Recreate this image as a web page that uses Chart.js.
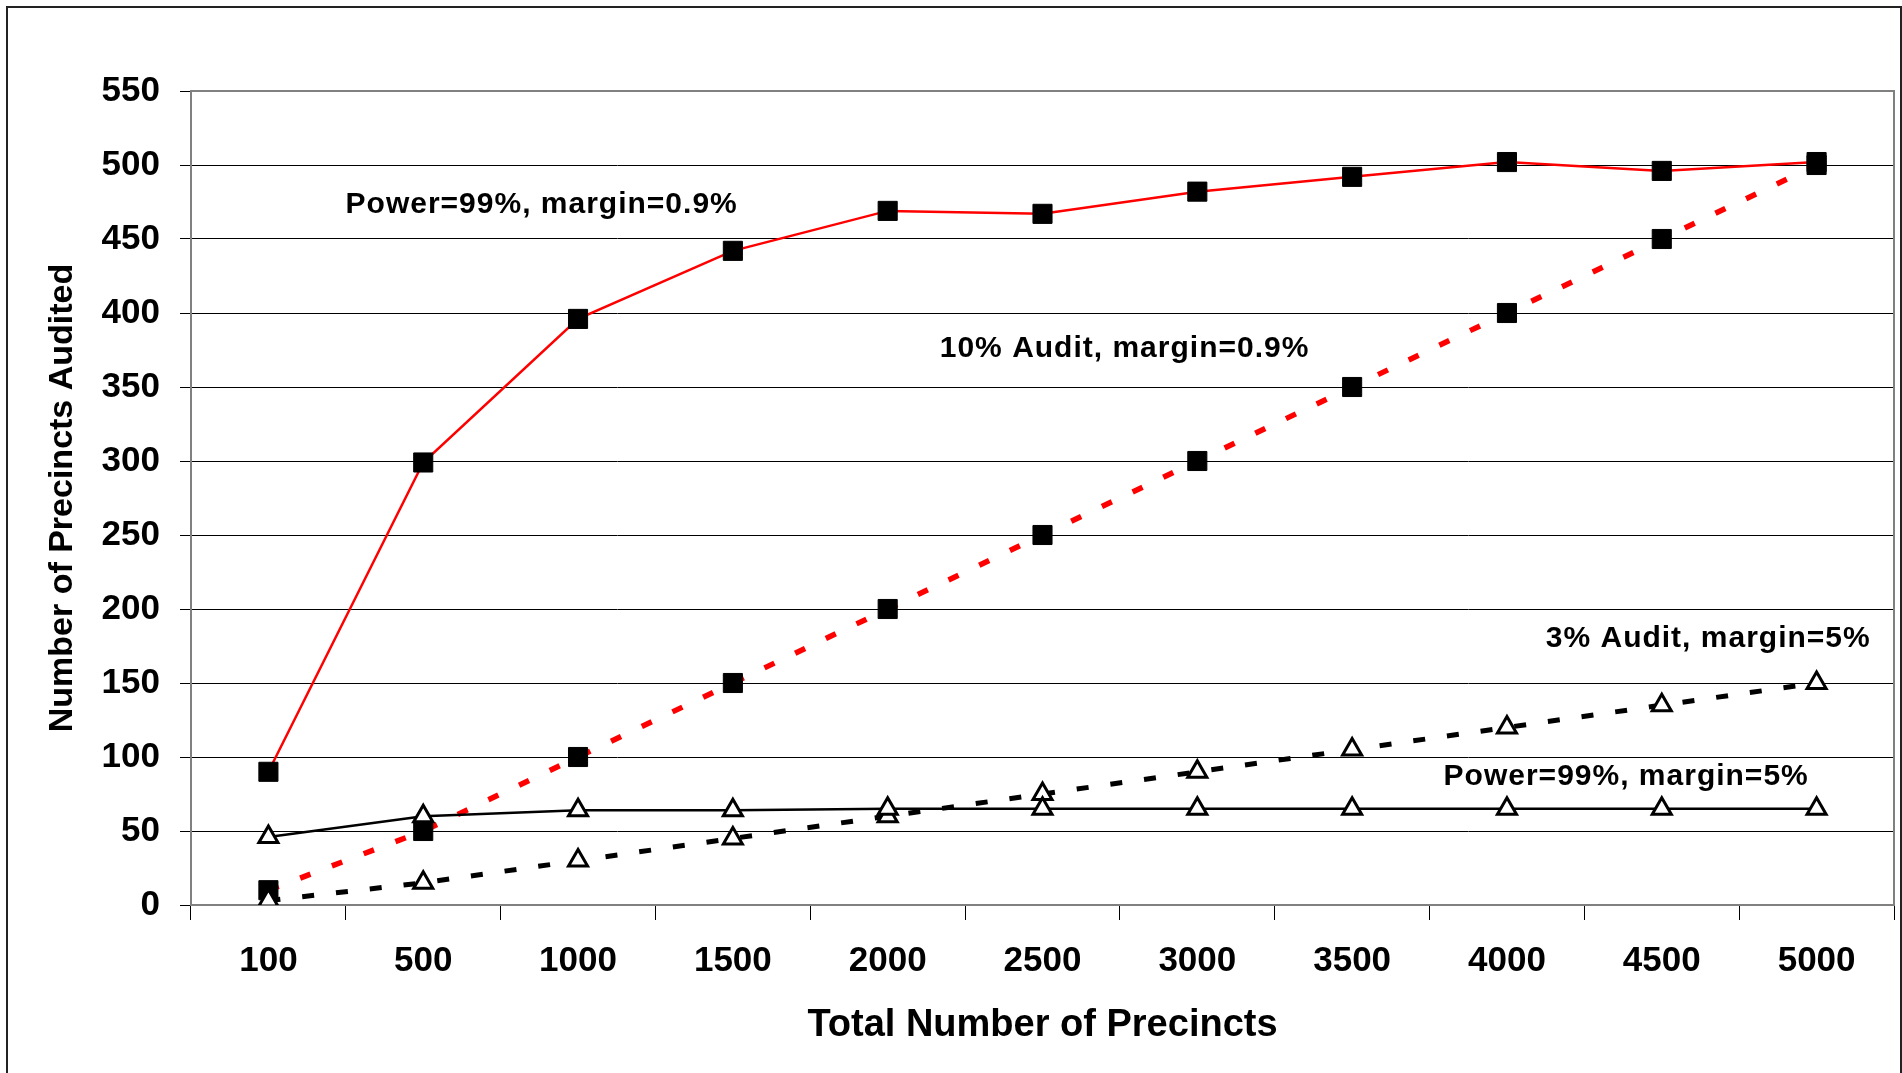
<!DOCTYPE html>
<html>
<head>
<meta charset="utf-8"/>
<title>Precincts Audited</title>
<script src="https://cdn.jsdelivr.net/npm/chart.js"></script>
<style>
  body { margin: 0; padding: 0; background: #ffffff; }
  #wrap { position: relative; width: 1902px; height: 1073px; }
</style>
</head>
<body>
<div id="wrap"><canvas id="chart" width="1902" height="1073"></canvas></div>
<script>
  // categories: total number of precincts
  const precincts = ['100', '500', '1000', '1500', '2000', '2500', '3000', '3500', '4000', '4500', '5000'];

  // series values
  const power99m09 = [90, 299, 396, 442, 469, 467, 482, 492, 502, 496, 502];
  const audit10m09 = [10, 50, 100, 150, 200, 250, 300, 350, 400, 450, 500];
  const audit3m5 = [3, 15, 30, 45, 60, 75, 90, 105, 120, 135, 150];
  const power99m5 = [46, 60, 64, 64, 65, 65, 65, 65, 65, 65, 65];

  // y axis range
  const yMin = 0, yMax = 550, yStep = 50;

  // in-chart labels (x = category position, y = value)
  const noteText = ['Power=99%, margin=0.9%', '10% Audit, margin=0.9%', '3% Audit, margin=5%', 'Power=99%, margin=5%'];
  const noteX = [1.765, 5.53, 9.30, 8.77];
  const noteY = [473, 376, 180, 87];

  const FONT = "'Liberation Sans', Arial, sans-serif";

  // grey plot area frame, drawn under the lines
  const plotFrame = {
    id: 'plotFrame',
    beforeDatasetsDraw(chart) {
      const a = chart.chartArea, ctx = chart.ctx;
      ctx.save();
      ctx.strokeStyle = '#808080';
      ctx.lineWidth = 2;
      ctx.strokeRect(a.left, a.top, a.right - a.left, a.bottom - a.top);
      ctx.restore();
    },
    afterDraw(chart) {
      const ctx = chart.ctx;
      ctx.save();
      ctx.strokeStyle = '#222222';
      ctx.lineWidth = 2;
      ctx.strokeRect(7, 7, chart.width - 8, chart.height + 10);
      ctx.restore();
    }
  };

  const notes = {
    id: 'notes',
    afterDatasetsDraw(chart) {
      const x = chart.scales.x, y = chart.scales.y, ctx = chart.ctx;
      ctx.save();
      ctx.font = 'bold 30px ' + FONT;
      ctx.letterSpacing = '1px';
      ctx.fillStyle = '#000000';
      ctx.textAlign = 'center';
      ctx.textBaseline = 'middle';
      noteText.forEach((t, i) => {
        ctx.fillText(t, x.getPixelForValue(noteX[i]), y.getPixelForValue(noteY[i]));
      });
      ctx.restore();
    }
  };

  const ctx = document.getElementById('chart').getContext('2d');
  new Chart(ctx, {
    type: 'line',
    data: {
      labels: precincts,
      datasets: [
        {
          label: 'Power=99%, margin=5%',
          data: power99m5,
          borderColor: '#000000',
          borderWidth: 2.5,
          pointStyle: 'triangle',
          pointRadius: 11,
          pointBackgroundColor: '#ffffff',
          pointBorderColor: '#000000',
          pointBorderWidth: 3
        },
        {
          label: '3% Audit, margin=5%',
          data: audit3m5,
          borderColor: '#000000',
          borderWidth: 5,
          borderDash: [12, 22],
          pointStyle: 'triangle',
          pointRadius: 11,
          pointBackgroundColor: '#ffffff',
          pointBorderColor: '#000000',
          pointBorderWidth: 3
        },
        {
          label: '10% Audit, margin=0.9%',
          data: audit10m09,
          borderColor: '#ff0000',
          borderWidth: 5.5,
          borderDash: [11, 23],
          pointStyle: 'rect',
          pointRadius: 13.5,
          pointBackgroundColor: '#000000',
          pointBorderColor: '#000000',
          pointBorderWidth: 1
        },
        {
          label: 'Power=99%, margin=0.9%',
          data: power99m09,
          borderColor: '#ff0000',
          borderWidth: 2.5,
          pointStyle: 'rect',
          pointRadius: 13.5,
          pointBackgroundColor: '#000000',
          pointBorderColor: '#000000',
          pointBorderWidth: 1
        }
      ]
    },
    options: {
      responsive: false,
      animation: false,
      events: [],
      layout: { autoPadding: false, padding: { top: 91, right: 8, left: 0, bottom: 0 } },
      plugins: {
        legend: { display: false },
        tooltip: { enabled: false }
      },
      elements: { line: { tension: 0 } },
      scales: {
        x: {
          type: 'category',
          offset: true,
          afterFit: (s) => { s.height = 168; s.paddingLeft = 0; s.paddingRight = 0; },
          grid: {
            offset: true,
            drawOnChartArea: false,
            drawTicks: true,
            tickLength: 15,
            tickColor: '#000000',
            tickWidth: 1
          },
          border: { color: '#808080', width: 2 },
          ticks: {
            color: '#000000',
            padding: 20,
            maxRotation: 0,
            font: { family: FONT, size: 35, weight: 'bold' }
          },
          title: {
            display: true,
            text: 'Total Number of Precincts',
            color: '#000000',
            padding: { top: 0, bottom: 25 },
            font: { family: FONT, size: 38, weight: 'bold' }
          }
        },
        y: {
          min: yMin,
          max: yMax,
          afterFit: (s) => { s.width = 191; },
          grid: {
            color: '#000000',
            lineWidth: 1,
            tickLength: 11,
            tickColor: '#000000'
          },
          border: { color: '#808080', width: 2 },
          ticks: {
            stepSize: yStep,
            color: '#000000',
            padding: 20,
            font: { family: FONT, size: 35, weight: 'bold' }
          },
          title: {
            display: true,
            text: 'Number of Precincts Audited',
            color: '#000000',
            padding: { top: 42, bottom: 0 },
            font: { family: FONT, size: 34, weight: 'bold' }
          }
        }
      }
    },
    plugins: [plotFrame, notes]
  });
</script>
</body>
</html>
